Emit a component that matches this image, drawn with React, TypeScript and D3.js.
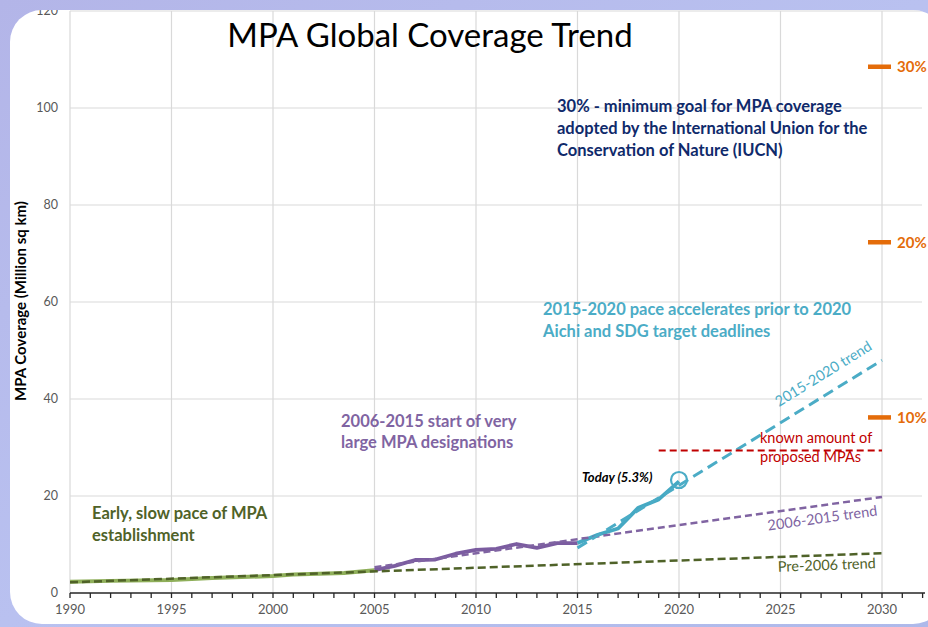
import React from 'react';
import * as d3 from 'd3';

// observed coverage, million sq km
const earlyYears = [1990, 1992, 1995, 1997, 2000, 2001, 2003.5, 2005];
const earlyValues = [2.3, 2.5, 2.7, 3.1, 3.5, 3.8, 4.1, 4.7];
const midYears = [2005, 2006, 2007, 2008, 2009, 2010, 2011, 2012, 2013, 2014, 2015];
const midValues = [4.7, 5.6, 6.8, 6.9, 8.1, 8.9, 9.1, 10.1, 9.3, 10.3, 10.3];
const lateYears = [2015, 2016, 2017, 2018, 2019, 2020];
const lateValues = [10.3, 12.0, 13.3, 17.6, 19.3, 23.0];

// trend lines [start, end]
const pre2006Trend = [[1990, 2.2], [2030, 8.2]];
const trend0615 = [[2005, 5.3], [2030, 19.8]];
const trend1520 = [[2015, 9.3], [2030, 48.0]];
const proposedLine = [[2019, 29.4], [2030, 29.4]];
const todayPoint = [2020, 23.3];

// ocean coverage targets
const targetLabels = ['30%', '20%', '10%'];
const targetValues = [108.5, 72.3, 36.2];

const yTicks = [0, 20, 40, 60, 80, 100, 120];
const xLabelYears = [1990, 1995, 2000, 2005, 2010, 2015, 2020, 2025, 2030];
const minorYears = d3.range(1990, 2033);

const FONT = 'Lato, "Open Sans", sans-serif';

export default function App() {
  const width = 928;
  const height = 627;
  const x = d3.scaleLinear().domain([1990, 2030]).range([70, 882]);
  const y = d3.scaleLinear().domain([0, 120]).range([593, 11]);
  const axisEnd = 925;

  const line = d3.line<[number, number]>().x(d => x(d[0])).y(d => y(d[1]));
  const zip = (a: number[], b: number[]) => a.map((v, i) => [v, b[i]] as [number, number]);

  const rotAt = (pts: number[][]) => {
    const dx = x(pts[1][0]) - x(pts[0][0]);
    const dy = y(pts[1][1]) - y(pts[0][1]);
    return (Math.atan2(dy, dx) * 180) / Math.PI;
  };

  return (
    <svg width={width} height={height} style={{ position: 'absolute', left: 0, top: 0 }}>
      <defs>
        <linearGradient id="bg" x1="0" y1="0" x2="1" y2="1">
          <stop offset="0%" stopColor="#b3b5e8" />
          <stop offset="50%" stopColor="#b9c1f0" />
          <stop offset="100%" stopColor="#aeb9ea" />
        </linearGradient>
        <clipPath id="panel">
          <rect x={10} y={10} width={935} height={614} rx={32} />
        </clipPath>
      </defs>
      <rect width={width} height={height} fill="url(#bg)" />
      <rect x={10} y={10} width={935} height={614} rx={32} fill="#fff" />

      <g clipPath="url(#panel)" fontFamily={FONT}>
        {/* grid */}
        {xLabelYears.map(t => (
          <line key={'gx' + t} x1={x(t)} x2={x(t)} y1={y(120)} y2={y(0)} stroke="#d9d9d9" strokeWidth={1.2} />
        ))}
        {yTicks.filter(t => t > 0).map(t => (
          <line key={'gy' + t} x1={x(1990)} x2={axisEnd - 3} y1={y(t)} y2={y(t)} stroke="#d9d9d9" strokeWidth={1.2} />
        ))}

        {/* y tick labels */}
        {yTicks.map(t => (
          <text key={'yl' + t} x={58} y={y(t)} dy="0.35em" textAnchor="end" fontSize={12.5} fill="#595959">
            {t}
          </text>
        ))}

        {/* x axis */}
        <line x1={x(1990)} x2={axisEnd} y1={y(0)} y2={y(0)} stroke="#262626" strokeWidth={1.5} />
        {minorYears.map(t => (
          <line key={'tk' + t} x1={x(t)} x2={x(t)} y1={y(0)} y2={y(0) + 5} stroke="#262626" strokeWidth={1.3} />
        ))}
        {xLabelYears.map(t => (
          <text key={'xl' + t} x={x(t)} y={614} textAnchor="middle" fontSize={13} fill="#595959">
            {t}
          </text>
        ))}

        {/* y axis title */}
        <text transform="translate(26,301) rotate(-90)" textAnchor="middle" fontSize={15} fontWeight="bold" fill="#000">
          MPA Coverage (Million sq km)
        </text>

        {/* title */}
        <text x={430} y={47} textAnchor="middle" fontSize={33} fill="#000">
          MPA Global Coverage Trend
        </text>

        {/* observed series */}
        <path d={line(zip(earlyYears, earlyValues)) || ''} fill="none" stroke="#8faf5a" strokeWidth={4} strokeLinejoin="round" />
        <path d={line(zip(midYears, midValues)) || ''} fill="none" stroke="#7b5ca0" strokeWidth={3.8} strokeLinejoin="round" />
        <path d={line(zip(lateYears, lateValues)) || ''} fill="none" stroke="#45a9c3" strokeWidth={3.8} strokeLinejoin="round" />

        {/* trends */}
        <path d={line(pre2006Trend as [number, number][]) || ''} fill="none" stroke="#4f6228" strokeWidth={2.5} strokeDasharray="8,4" />
        <path d={line(trend0615 as [number, number][]) || ''} fill="none" stroke="#8064a2" strokeWidth={2.5} strokeDasharray="7,4" />
        <path d={line(trend1520 as [number, number][]) || ''} fill="none" stroke="#4bacc6" strokeWidth={3} strokeDasharray="11,6" />
        <path d={line(proposedLine as [number, number][]) || ''} fill="none" stroke="#c00000" strokeWidth={2} strokeDasharray="7,4" />

        <circle cx={x(todayPoint[0])} cy={y(todayPoint[1])} r={8} fill="none" stroke="#4bacc6" strokeWidth={2.2} />
        <text x={582} y={482} fontSize={13} fontWeight="bold" fontStyle="italic" fill="#000">
          Today (5.3%)
        </text>

        {/* trend labels */}
        <text transform={`translate(826,378) rotate(${rotAt(trend1520)})`} textAnchor="middle" fontSize={14.5} fill="#4bacc6">
          2015-2020 trend
        </text>
        <text transform={`translate(823,523) rotate(${rotAt(trend0615)})`} textAnchor="middle" fontSize={14.5} fill="#8064a2">
          2006-2015 trend
        </text>
        <text transform={`translate(827,570) rotate(${rotAt(pre2006Trend)})`} textAnchor="middle" fontSize={14.5} fill="#4f6228">
          Pre-2006 trend
        </text>
        <text fontSize={14.5} fill="#c00000">
          <tspan x={760} y={443}>known amount of</tspan>
          <tspan x={760} y={462}>proposed MPAs</tspan>
        </text>

        {/* targets */}
        {targetValues.map((v, i) => (
          <g key={'tg' + i}>
            <line x1={868} x2={891} y1={y(v)} y2={y(v)} stroke="#e46c0a" strokeWidth={4.5} />
            <text x={897} y={y(v)} dy="0.35em" fontSize={15} fontWeight="bold" fill="#e46c0a">
              {targetLabels[i]}
            </text>
          </g>
        ))}

        {/* annotations */}
        <text fontSize={16.5} fontWeight="bold" fill="#0f2a6b">
          <tspan x={557} y={112}>30% - minimum goal for MPA coverage</tspan>
          <tspan x={557} y={134}>adopted by the International Union for the</tspan>
          <tspan x={557} y={156}>Conservation of Nature (IUCN)</tspan>
        </text>
        <text fontSize={16.5} fontWeight="bold" fill="#4bacc6">
          <tspan x={543} y={315}>2015-2020 pace accelerates prior to 2020</tspan>
          <tspan x={543} y={337}>Aichi and SDG target deadlines</tspan>
        </text>
        <text fontSize={16.5} fontWeight="bold" fill="#8064a2">
          <tspan x={341} y={427}>2006-2015 start of very</tspan>
          <tspan x={341} y={448}>large MPA designations</tspan>
        </text>
        <text fontSize={16.5} fontWeight="bold" fill="#4f6228">
          <tspan x={92} y={519}>Early, slow pace of MPA</tspan>
          <tspan x={92} y={541}>establishment</tspan>
        </text>
      </g>
    </svg>
  );
}
